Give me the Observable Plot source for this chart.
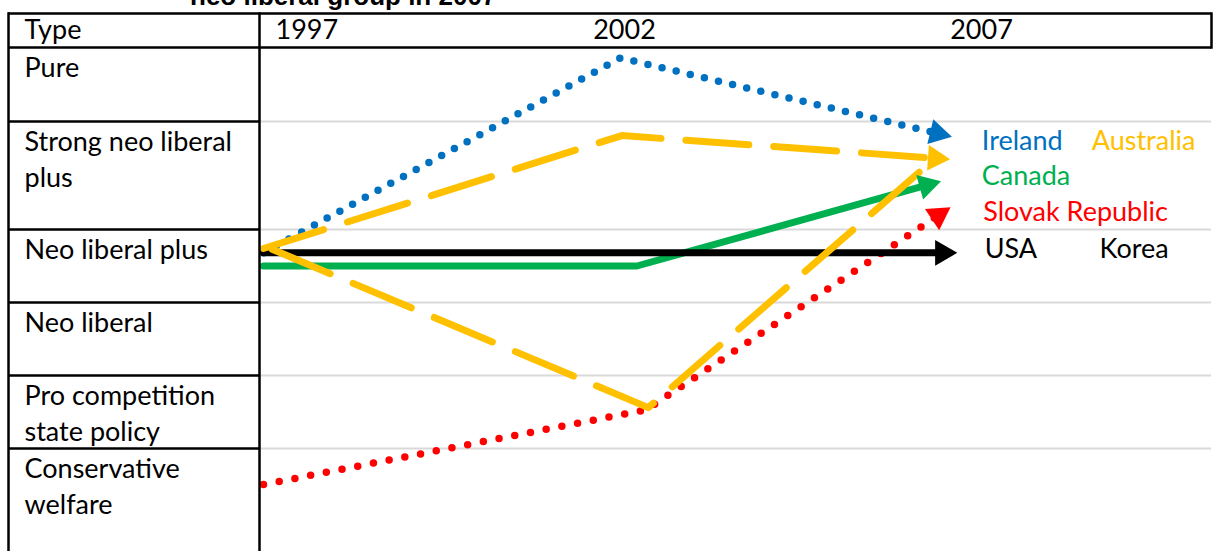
<!DOCTYPE html>
<html>
<head>
<meta charset="utf-8">
<script src="https://cdn.jsdelivr.net/npm/d3@7"></script>
<script src="https://cdn.jsdelivr.net/npm/@observablehq/plot@0.6"></script>
<style>
  html, body { margin: 0; padding: 0; background: #fff; }
  body { width: 1213px; height: 551px; overflow: hidden; position: relative; }
  #chart { position: absolute; left: 0; top: 0; }
  #title { position: absolute; left: 190px; top: -17px; font: bold 26px "Liberation Sans", Arial, sans-serif; line-height: 26px; white-space: nowrap; color: #000; }
</style>
</head>
<body>
<div id="chart"></div>
<div id="title">neo liberal group in 2007</div>
<script>
// ---------- data ----------
const types = ["Pure", "Strong neo liberal\nplus", "Neo liberal plus", "Neo liberal", "Pro competition\nstate policy", "Conservative\nwelfare"];
const headerLabel = "Type";
const yearTicks = [1997, 2002, 2007];
// level: position on the type axis (0 = top edge of "Pure", one unit per type row)
const ireland       = [{year: 1997, level: 2.32}, {year: 2002.0, level: 0.14}, {year: 2006.44, level: 1.11}];
const australiaUp   = [{year: 1997, level: 2.26}, {year: 2002.02, level: 1.13}, {year: 2006.41, level: 1.34}];
const australiaDown = [{year: 1997.12, level: 2.27}, {year: 2002.39, level: 4.44}, {year: 2006.41, level: 1.34}];
const canada        = [{year: 1997, level: 2.50}, {year: 2002.23, level: 2.50}, {year: 2006.29, level: 1.59}];
const slovak        = [{year: 1997, level: 5.35}, {year: 2002.36, level: 4.47}, {year: 2006.45, level: 1.87}];
const usaKorea      = [{year: 1997, level: 2.32}, {year: 2006.51, level: 2.32}];
const countryNames  = ["Ireland", "Australia", "Canada", "Slovak Republic", "USA", "Korea"];

// ---------- layout & styles ----------
const W = 1213, H = 551;
const xDomain = [1997, 2007], xRange = [263, 977];
// table rows have unequal heights: map row levels onto the table's row edges
const rowLevels = [-1, 0, 1, 2, 3, 4, 5, 6];
const rowEdgesPx = [13, 47, 121, 229, 302, 375, 448, 551];
const rowMap = d3.scaleLinear().domain(rowLevels).range(rowEdgesPx);
const labelPlace = {
  "Ireland": {year: 2007.06, level: 1.18}, "Australia": {year: 2008.6, level: 1.18},
  "Canada": {year: 2007.06, level: 1.51}, "Slovak Republic": {year: 2007.08, level: 1.84},
  "USA": {year: 2007.1, level: 2.27}, "Korea": {year: 2008.71, level: 2.27}
};
const colors = {"Ireland": "#0070C0", "Australia": "#FFC000", "Canada": "#00B050", "Slovak Republic": "#FF0000", "USA": "#000000", "Korea": "#000000"};

const sx = Plot.scale({x: {domain: xDomain, range: xRange}});
function head(series, color) {
  const a = series[series.length - 2], b = series[series.length - 1];
  const dx = sx.apply(b.year) - sx.apply(a.year);
  const dy = rowMap(b.level) - rowMap(a.level);
  return {year: b.year, level: b.level, color, angle: Math.atan2(dx, -dy) * 180 / Math.PI};
}
const heads = [
  head(ireland, colors["Ireland"]),
  head(australiaUp, colors["Australia"]),
  head(canada, colors["Canada"]),
  head(slovak, colors["Slovak Republic"]),
  head(usaKorea, colors["USA"])
];
const labels = countryNames.map(n => ({name: n, ...labelPlace[n], color: colors[n]}));
const rowEdges = types.map((t, i) => i).filter(i => i > 0);

const font = 27;
const chart = Plot.plot({
  width: W, height: H,
  marginLeft: 259, marginRight: 2, marginTop: 13, marginBottom: 0,
  style: {fontFamily: "Lato, 'Open Sans', sans-serif", background: "#fff", overflow: "visible"},
  x: {domain: xDomain, range: xRange, axis: null},
  y: {type: "linear", transform: rowMap, domain: [rowEdgesPx[0], rowEdgesPx[rowEdgesPx.length - 1]], range: [rowEdgesPx[0], rowEdgesPx[rowEdgesPx.length - 1]], axis: null},
  color: {type: "identity"},
  marks: [
    // grid (body, right column)
    Plot.ruleY(rowEdges, {y: d => d, stroke: "#d9d9d9", strokeWidth: 2}),
    // lines
    Plot.line(ireland, {x: "year", y: "level", stroke: colors["Ireland"], strokeWidth: 7.5, strokeDasharray: "0 14.5", strokeLinecap: "round"}),
    Plot.line(slovak, {x: "year", y: "level", stroke: colors["Slovak Republic"], strokeWidth: 7.5, strokeDasharray: "0 16", strokeLinecap: "round"}),
    Plot.line(canada, {x: "year", y: "level", stroke: colors["Canada"], strokeWidth: 7}),
    Plot.line(usaKorea, {x: "year", y: "level", stroke: colors["USA"], strokeWidth: 7}),
    Plot.line(australiaUp, {x: "year", y: "level", stroke: colors["Australia"], strokeWidth: 7, strokeDasharray: "63 25"}),
    Plot.line(australiaDown, {x: "year", y: "level", stroke: colors["Australia"], strokeWidth: 7, strokeDasharray: "63 25"}),
    // arrow heads
    Plot.dot(heads, {x: "year", y: "level", symbol: "triangle", r: 9.5, fill: "color", stroke: null, rotate: "angle"}),
    // table borders
    Plot.ruleY([-1, 0], {y: d => d, stroke: "#000", strokeWidth: 2.5, insetLeft: -251}),
    Plot.ruleY(rowEdges, {y: d => d, stroke: "#000", strokeWidth: 2.5, insetLeft: -251, insetRight: 952}),
    Plot.frame({anchor: "left", stroke: "#000", strokeWidth: 2.5, dx: -251}),
    Plot.frame({anchor: "left", stroke: "#000", strokeWidth: 2.5}),
    Plot.frame({anchor: "right", stroke: "#000", strokeWidth: 2.5, insetBottom: 504}),
    // header
    Plot.text([headerLabel], {text: d => d, y: -1, frameAnchor: "left", dx: -235, textAnchor: "start", lineAnchor: "top", dy: 6, fontSize: font, fill: "#000"}),
    Plot.text([yearTicks[0]], {x: d => d, y: -1, text: d => String(d), textAnchor: "start", dx: 12, lineAnchor: "top", dy: 6, fontSize: font, fill: "#000"}),
    Plot.text(yearTicks.slice(1), {x: d => d, y: -1, text: d => String(d), dx: 4, lineAnchor: "top", dy: 6, fontSize: font, fill: "#000"}),
    // type labels
    Plot.text(types, {text: d => d, y: (d, i) => i, frameAnchor: "left", dx: -235, textAnchor: "start", lineAnchor: "top", dy: 4, lineHeight: 1.33, fontSize: font, fill: "#000"}),
    // country labels
    Plot.text(labels, {x: "year", y: "level", text: "name", fill: "color", textAnchor: "start", lineAnchor: "middle", fontSize: font})
  ]
});
document.getElementById("chart").appendChild(chart);
</script>
</body>
</html>
